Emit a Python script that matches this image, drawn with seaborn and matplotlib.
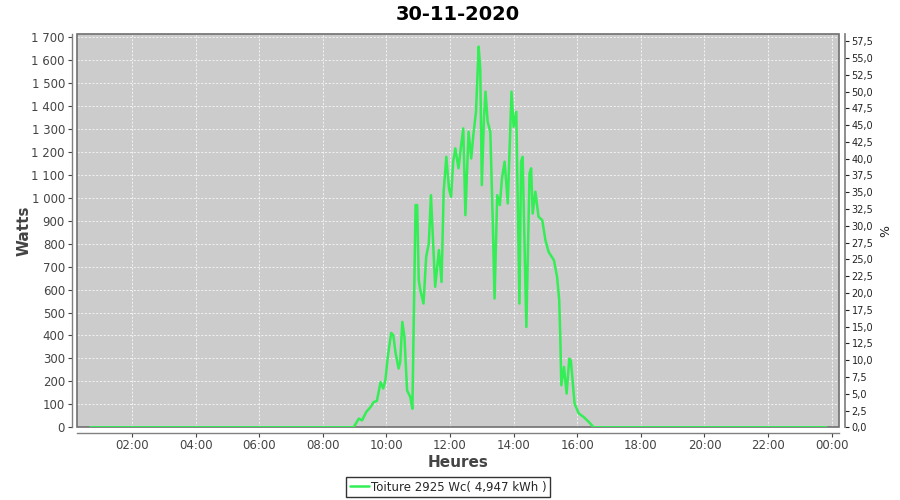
import matplotlib
matplotlib.use('Agg')
import matplotlib.pyplot as plt
import matplotlib.dates as mdates
import matplotlib.ticker as mticker
from matplotlib.patches import Rectangle
import seaborn as sns
import pandas as pd

# production du 30-11-2020 (lecture du graphique)
night_am = ['00:41', '01:30', '02:30', '03:30', '04:30', '05:30', '06:30', '07:30', '08:30']
day_times = ['08:58', '09:08', '09:14', '09:22', '09:30', '09:36', '09:42', '09:49', '09:54', '09:58',
             '10:03', '10:09', '10:13', '10:17', '10:23', '10:26', '10:30', '10:34', '10:39', '10:45',
             '10:49', '10:55', '10:58', '11:01', '11:04', '11:10', '11:15', '11:20', '11:24', '11:32',
             '11:39', '11:44', '11:48', '11:53', '11:58', '12:02', '12:06', '12:10', '12:16', '12:21',
             '12:25', '12:29', '12:35', '12:40', '12:44', '12:49', '12:54', '12:57', '13:00', '13:04',
             '13:07', '13:11', '13:16', '13:21', '13:24', '13:29', '13:34', '13:38', '13:43', '13:49',
             '13:56', '14:00', '14:05', '14:11', '14:14', '14:17', '14:24', '14:30', '14:33', '14:36',
             '14:41', '14:47', '14:54', '15:00', '15:06', '15:16', '15:22', '15:26', '15:28', '15:30',
             '15:35', '15:40', '15:45', '15:48', '15:55', '16:03', '16:12', '16:22', '16:31']
day_watts = [0, 38, 30, 67, 88, 110, 115, 197, 169, 205,
             314, 411, 401, 328, 256, 285, 459, 394, 161, 132,
             81, 968, 968, 641, 597, 539, 742, 801, 1011, 612,
             772, 633, 1026, 1178, 1040, 1004, 1157, 1215, 1128, 1229,
             1302, 924, 1287, 1171, 1273, 1374, 1658, 1563, 1055, 1345,
             1462, 1331, 1287, 866, 561, 1011, 968, 1084, 1157, 975,
             1462, 1309, 1374, 539, 1157, 1178, 437, 1106, 1128, 931,
             1026, 917, 902, 815, 764, 728, 655, 554, 394, 183,
             263, 147, 299, 290, 103, 60, 45, 23, 0]
night_pm = ['17:00', '18:00', '19:00', '20:00', '21:00', '22:00', '23:00', '23:50']

puissance_crete = 2925  # Wc
titre = '30-11-2020'
legende = 'Toiture 2925 Wc( 4,947 kWh )'

times = night_am + day_times + night_pm
watts = [0] * len(night_am) + day_watts + [0] * len(night_pm)
df = pd.DataFrame({'Heure': pd.to_datetime(['2020-11-30 ' + t for t in times]),
                   'Watts': watts})

sns.set_theme(style='white')
plt.rcParams['font.family'] = ['DejaVu Sans']

fig = plt.figure(figsize=(9, 5), dpi=100)
ax = fig.add_axes([0.086, 0.1454, 0.8463, 0.7866])
ax.set_facecolor('#cccccc')

sns.lineplot(ax=ax, data=df, x='Heure', y='Watts', color='#33ee55', linewidth=1.8,
             label=legende, legend=False, zorder=6)

ymax = 1713
ax.set_ylim(0, ymax)
ax.set_xlim(pd.Timestamp('2020-11-30 00:17'), pd.Timestamp('2020-12-01 00:14'))
ax.yaxis.set_major_locator(mticker.MultipleLocator(100))
ax.yaxis.set_major_formatter(mticker.FuncFormatter(lambda v, p: '{:,.0f}'.format(v).replace(',', ' ')))
ax.xaxis.set_major_locator(mdates.HourLocator(byhour=range(0, 24, 2)))
ax.xaxis.set_major_formatter(mdates.DateFormatter('%H:%M'))
ax.grid(True, color='white', linestyle=(0, (2.5, 2)), linewidth=0.6, alpha=0.85)

# cadre du tracé
ax.add_patch(Rectangle((0, 0), 1, 1, transform=ax.transAxes, fill=False,
                       edgecolor='#707070', linewidth=1.2, zorder=5, clip_on=False))
ax.spines['top'].set_visible(False)
ax.spines['right'].set_visible(False)
for s in ['bottom', 'left']:
    ax.spines[s].set_visible(True)
    ax.spines[s].set_color('#808080')
    ax.spines[s].set_linewidth(1)
    ax.spines[s].set_position(('outward', 4))

ax.tick_params(axis='both', labelsize=8.5, colors='#444444', length=3, width=0.8, direction='out',
               left=True, bottom=True)
ax.tick_params(axis='y', pad=2)
ax.tick_params(axis='x', pad=1.5)
ax.set_xlabel('Heures', fontsize=11, fontweight='bold', color='#444444', labelpad=2)
ax.set_ylabel('Watts', fontsize=11, fontweight='bold', color='#444444', labelpad=0)

# axe des pourcentages
ax2 = ax.twinx()
ax2.set_ylim(0, ymax * 100 / puissance_crete)
ax2.yaxis.set_major_locator(mticker.MultipleLocator(2.5))
ax2.yaxis.set_major_formatter(mticker.FuncFormatter(lambda v, p: '{:.1f}'.format(v).replace('.', ',')))
ax2.tick_params(axis='y', labelsize=7, colors='#222222', length=3, width=0.8, right=True, pad=2)
for s in ['top', 'left', 'bottom']:
    ax2.spines[s].set_visible(False)
ax2.spines['right'].set_color('#808080')
ax2.spines['right'].set_position(('outward', 4))
ax2.set_ylabel('%', fontsize=9, color='#222222', labelpad=4)
ax2.grid(False)

ax.set_title(titre, fontsize=14, fontweight='bold', color='black', pad=10)

handles, labels = ax.get_legend_handles_labels()
fig.legend(handles, labels, loc='center', bbox_to_anchor=(0.498, 0.026), fontsize=8.5,
           frameon=True, fancybox=False, edgecolor='black', handlelength=1.6,
           handletextpad=0.2, borderpad=0.3, borderaxespad=0)

fig.savefig('out.png', dpi=100)
